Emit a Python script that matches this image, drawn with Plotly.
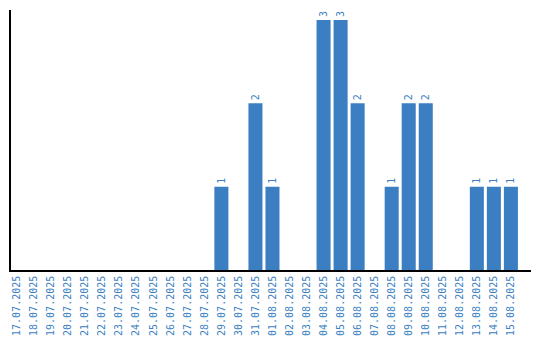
import plotly.graph_objects as go

dates = ["17.07.2025", "18.07.2025", "19.07.2025", "20.07.2025", "21.07.2025",
         "22.07.2025", "23.07.2025", "24.07.2025", "25.07.2025", "26.07.2025",
         "27.07.2025", "28.07.2025", "29.07.2025", "30.07.2025", "31.07.2025",
         "01.08.2025", "02.08.2025", "03.08.2025", "04.08.2025", "05.08.2025",
         "06.08.2025", "07.08.2025", "08.08.2025", "09.08.2025", "10.08.2025",
         "11.08.2025", "12.08.2025", "13.08.2025", "14.08.2025", "15.08.2025"]
counts = [0, 0, 0, 0, 0, 0, 0, 0, 0, 0, 0, 0, 1, 0, 2,
          1, 0, 0, 3, 3, 2, 0, 1, 2, 2, 0, 0, 1, 1, 1]

blue = "#3b7fc2"
font_family = "DejaVu Sans Mono"
labels = [str(v) if v else "" for v in counts]

fig = go.Figure(go.Bar(
    x=dates, y=counts, text=labels, textposition="outside", textangle=-90,
    marker=dict(color=blue, line=dict(width=0)),
    textfont=dict(family=font_family, size=10, color=blue),
    cliponaxis=False, hoverinfo="skip",
))

fig.update_layout(
    width=540, height=340,
    margin=dict(l=11, r=9, t=10, b=70, autoexpand=False),
    paper_bgcolor="white", plot_bgcolor="white",
    bargap=0.176, showlegend=False,
    font=dict(family=font_family, size=10, color=blue),
    uniformtext=dict(minsize=10, mode="show"),
)
fig.update_xaxes(
    type="category", range=[-0.353, 30.18], tickangle=-90, automargin=False,
    showline=True, linecolor="black", linewidth=1.5, showgrid=False,
    ticks="", tickfont=dict(family=font_family, size=10, color=blue),
)
fig.update_yaxes(
    range=[0, 3.12], showline=True, linecolor="black", linewidth=1.5,
    showgrid=False, zeroline=False, showticklabels=False, ticks="",
    automargin=False,
)

fig.write_html("out.html")
